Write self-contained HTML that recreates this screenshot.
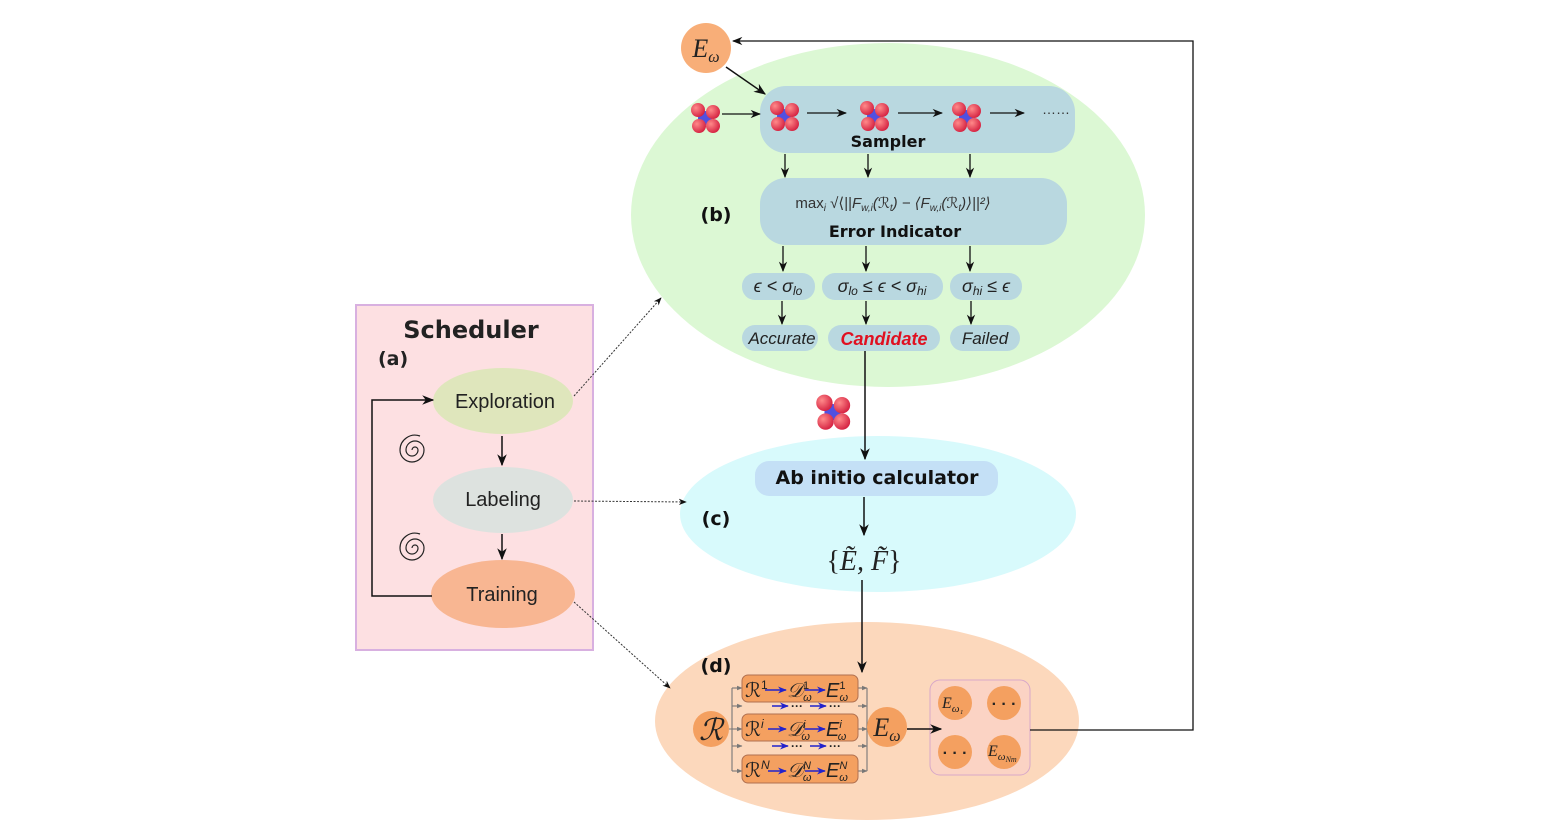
<!DOCTYPE html>
<html><head><meta charset="utf-8"><style>
html,body{margin:0;padding:0;background:#fff;}
svg{display:block;}
text{font-family:"Liberation Sans","DejaVu Sans",sans-serif;}
.m{font-family:"Liberation Serif","DejaVu Serif",serif;font-style:italic;}
.b{font-family:"DejaVu Sans","Liberation Sans",sans-serif;font-weight:bold;}
</style></head><body>
<svg width="1550" height="822" viewBox="0 0 1550 822" xmlns="http://www.w3.org/2000/svg">
<defs>
<marker id="ah" viewBox="0 0 10 10" refX="9" refY="5" markerWidth="8" markerHeight="8" orient="auto-start-reverse"><path d="M0,1 L10,5 L0,9 L3,5z" fill="#111"/></marker>
<marker id="ab" viewBox="0 0 10 10" refX="9" refY="5" markerWidth="6" markerHeight="6" orient="auto"><path d="M0,1 L10,5 L0,9 L3,5z" fill="#2222cc"/></marker>
<marker id="ag" viewBox="0 0 10 10" refX="9" refY="5" markerWidth="5" markerHeight="5" orient="auto"><path d="M0,1 L10,5 L0,9z" fill="#777"/></marker>
<radialGradient id="rd" cx="0.35" cy="0.35" r="0.7"><stop offset="0" stop-color="#ff8a8a"/><stop offset="1" stop-color="#d42040"/></radialGradient>
<g id="mol"><circle cx="0" cy="0" r="7" fill="#5050e0"/><circle cx="-7" cy="-8" r="7" fill="url(#rd)"/><circle cx="8" cy="-6" r="7" fill="url(#rd)"/><circle cx="-6" cy="8" r="7" fill="url(#rd)"/><circle cx="8" cy="8" r="7" fill="url(#rd)"/></g>
</defs>
<ellipse cx="888" cy="215" rx="257" ry="172" fill="#dcf8d4"/>
<ellipse cx="878" cy="514" rx="198" ry="78" fill="#d8fafc"/>
<ellipse cx="867" cy="721" rx="212" ry="99" fill="#fcd8bc"/>
<rect x="356" y="305" width="237" height="345" fill="#fde0e2" stroke="#d8b0e0" stroke-width="2"/>
<text x="471" y="338" class="b" font-size="24" text-anchor="middle" fill="#222">Scheduler</text>
<text x="378" y="365" class="b" font-size="19" fill="#222">(a)</text>
<ellipse cx="503" cy="401" rx="70" ry="33" fill="#dfe6bc"/>
<text x="505" y="408" font-size="20" text-anchor="middle" fill="#222">Exploration</text>
<ellipse cx="503" cy="500" rx="70" ry="33" fill="#dde2df"/>
<text x="503" y="506" font-size="20" text-anchor="middle" fill="#222">Labeling</text>
<ellipse cx="503" cy="594" rx="72" ry="34" fill="#f8b692"/>
<text x="502" y="601" font-size="20" text-anchor="middle" fill="#222">Training</text>
<line x1="502" y1="436" x2="502" y2="465" stroke="#111" stroke-width="1.5" marker-end="url(#ah)"/>
<line x1="502" y1="534" x2="502" y2="559" stroke="#111" stroke-width="1.5" marker-end="url(#ah)"/>
<path d="M432,596 L372,596 L372,400 L433,400" fill="none" stroke="#111" stroke-width="1.5" marker-end="url(#ah)"/>
<g fill="none" stroke="#222" stroke-width="1.2">
<path d="M412,450 m0,0 a3,3 0 0 1 6,0 a6,6 0 0 1 -12,0 a9,9 0 0 1 18,0 a12,12 0 0 1 -24,0 a15,15 0 0 1 20,-14"/>
<path d="M412,548 m0,0 a3,3 0 0 1 6,0 a6,6 0 0 1 -12,0 a9,9 0 0 1 18,0 a12,12 0 0 1 -24,0 a15,15 0 0 1 20,-14"/>
</g>
<line x1="574" y1="396" x2="661" y2="298" stroke="#333" stroke-width="1" stroke-dasharray="2,1.5" marker-end="url(#ah)"/>
<line x1="574" y1="501" x2="686" y2="502" stroke="#333" stroke-width="1" stroke-dasharray="2,1.5" marker-end="url(#ah)"/>
<line x1="574" y1="602" x2="670" y2="688" stroke="#333" stroke-width="1" stroke-dasharray="2,1.5" marker-end="url(#ah)"/>
<circle cx="706" cy="48" r="25" fill="#f8ae78"/>
<text x="706" y="57" class="m" font-size="26" text-anchor="middle" fill="#222">E<tspan font-size="16" dy="5">ω</tspan></text>
<line x1="726" y1="67" x2="765" y2="94" stroke="#111" stroke-width="1.5" marker-end="url(#ah)"/>
<rect x="760" y="86" width="315" height="67" rx="26" fill="#b9d8e0"/>
<use href="#mol" x="705" y="118"/>
<line x1="722" y1="114" x2="760" y2="114" stroke="#111" stroke-width="1.3" marker-end="url(#ah)"/>
<use href="#mol" x="784" y="116"/>
<line x1="807" y1="113" x2="846" y2="113" stroke="#111" stroke-width="1.3" marker-end="url(#ah)"/>
<use href="#mol" x="874" y="116"/>
<line x1="898" y1="113" x2="942" y2="113" stroke="#111" stroke-width="1.3" marker-end="url(#ah)"/>
<use href="#mol" x="966" y="117"/>
<line x1="990" y1="113" x2="1024" y2="113" stroke="#111" stroke-width="1.3" marker-end="url(#ah)"/>
<text x="1056" y="114" font-size="14" text-anchor="middle" fill="#333">……</text>
<text x="888" y="147" class="b" font-size="16" text-anchor="middle" fill="#111">Sampler</text>
<g stroke="#111" stroke-width="1.3">
<line x1="785" y1="154" x2="785" y2="177" marker-end="url(#ah)"/>
<line x1="868" y1="154" x2="868" y2="177" marker-end="url(#ah)"/>
<line x1="970" y1="154" x2="970" y2="177" marker-end="url(#ah)"/>
</g>
<rect x="760" y="178" width="307" height="67" rx="26" fill="#b9d8e0"/>
<text x="893" y="208" font-family="Liberation Serif,serif" font-size="15" text-anchor="middle" fill="#333">max<tspan font-size="10" dy="3" font-style="italic">i</tspan><tspan dy="-3"> √⟨||</tspan><tspan font-style="italic">F<tspan font-size="10" dy="3">w,i</tspan><tspan dy="-3">(ℛ</tspan><tspan font-size="10" dy="3">t</tspan><tspan dy="-3">) − ⟨F</tspan><tspan font-size="10" dy="3">w,i</tspan><tspan dy="-3">(ℛ</tspan><tspan font-size="10" dy="3">t</tspan><tspan dy="-3">)⟩||²⟩</tspan></tspan></text>
<text x="895" y="237" class="b" font-size="16" text-anchor="middle" fill="#111">Error Indicator</text>
<text x="716" y="221" class="b" font-size="19" text-anchor="middle" fill="#111">(b)</text>
<g stroke="#111" stroke-width="1.3">
<line x1="783" y1="246" x2="783" y2="271" marker-end="url(#ah)"/>
<line x1="866" y1="246" x2="866" y2="271" marker-end="url(#ah)"/>
<line x1="970" y1="246" x2="970" y2="271" marker-end="url(#ah)"/>
<line x1="782" y1="301" x2="782" y2="324" marker-end="url(#ah)"/>
<line x1="866" y1="301" x2="866" y2="324" marker-end="url(#ah)"/>
<line x1="971" y1="301" x2="971" y2="324" marker-end="url(#ah)"/>
</g>
<g fill="#b9d8e0">
<rect x="742" y="273" width="73" height="27" rx="13"/>
<rect x="822" y="273" width="121" height="27" rx="13"/>
<rect x="950" y="273" width="72" height="27" rx="13"/>
<rect x="742" y="325" width="76" height="26" rx="13"/>
<rect x="828" y="325" width="112" height="26" rx="13"/>
<rect x="950" y="325" width="70" height="26" rx="13"/>
</g>
<g class="m" font-size="18" fill="#222" text-anchor="middle">
<text x="778" y="292">ϵ &lt; σ<tspan font-size="12" dy="3">lo</tspan></text>
<text x="882" y="292">σ<tspan font-size="12" dy="3">lo</tspan><tspan dy="-3"> ≤ ϵ &lt; σ</tspan><tspan font-size="12" dy="3">hi</tspan></text>
<text x="986" y="292">σ<tspan font-size="12" dy="3">hi</tspan><tspan dy="-3"> ≤ ϵ</tspan></text>
</g>
<text x="782" y="344" font-size="17" font-style="italic" text-anchor="middle" fill="#222">Accurate</text>
<text x="884" y="345" font-size="18" font-style="italic" font-weight="bold" text-anchor="middle" fill="#e01020">Candidate</text>
<text x="985" y="344" font-size="17" font-style="italic" text-anchor="middle" fill="#222">Failed</text>
<line x1="865" y1="351" x2="865" y2="459" stroke="#111" stroke-width="1.5" marker-end="url(#ah)"/>
<use href="#mol" x="833" y="413" transform="translate(-142 -71) scale(1.17)"/>
<rect x="755" y="461" width="243" height="35" rx="14" fill="#c4e0f6"/>
<text x="877" y="484" class="b" font-size="19" text-anchor="middle" fill="#111">Ab initio calculator</text>
<text x="716" y="525" class="b" font-size="19" text-anchor="middle" fill="#111">(c)</text>
<line x1="864" y1="497" x2="864" y2="535" stroke="#111" stroke-width="1.5" marker-end="url(#ah)"/>
<text x="864" y="570" class="m" font-size="28" text-anchor="middle" fill="#222"><tspan font-style="normal">{</tspan>Ẽ, F̃<tspan font-style="normal">}</tspan></text>
<line x1="862" y1="580" x2="862" y2="672" stroke="#111" stroke-width="1.5" marker-end="url(#ah)"/>
<text x="716" y="672" class="b" font-size="19" text-anchor="middle" fill="#111">(d)</text>
<circle cx="711" cy="729" r="18" fill="#f4a060"/>
<text x="711" y="740" class="m" font-size="30" text-anchor="middle" fill="#222">ℛ</text>
<g stroke="#777" stroke-width="1.1" fill="none">
<path d="M729,729 H732 M732,688 V771"/>
<line x1="732" y1="688" x2="742" y2="688" marker-end="url(#ag)"/>
<line x1="732" y1="706" x2="742" y2="706" marker-end="url(#ag)"/>
<line x1="732" y1="729" x2="742" y2="729" marker-end="url(#ag)"/>
<line x1="732" y1="746" x2="742" y2="746" marker-end="url(#ag)"/>
<line x1="732" y1="771" x2="742" y2="771" marker-end="url(#ag)"/>
<line x1="858" y1="688" x2="867" y2="688" marker-end="url(#ag)"/>
<line x1="858" y1="706" x2="867" y2="706" marker-end="url(#ag)"/>
<line x1="858" y1="729" x2="867" y2="729" marker-end="url(#ag)"/>
<line x1="858" y1="746" x2="867" y2="746" marker-end="url(#ag)"/>
<line x1="858" y1="771" x2="867" y2="771" marker-end="url(#ag)"/>
<path d="M867,688 V771"/>
</g>
<g fill="#f4a060" stroke="#b07050" stroke-width="1">
<rect x="742" y="675" width="116" height="27" rx="6"/>
<rect x="742" y="714" width="116" height="27" rx="6"/>
<rect x="742" y="755" width="116" height="28" rx="6"/>
</g>
<g class="m" font-size="20" fill="#222">
<text x="745" y="697">ℛ<tspan font-size="12" font-style="normal" dy="-8">1</tspan></text>
<text x="787" y="697">𝒟<tspan font-size="11" font-style="normal" dy="-8">1</tspan><tspan font-size="11" dx="-6" dy="12">ω</tspan></text>
<text x="826" y="697">E<tspan font-size="11" font-style="normal" dy="-8">1</tspan><tspan font-size="11" dx="-6" dy="12">ω</tspan></text>
<text x="745" y="736">ℛ<tspan font-size="12" dy="-8">i</tspan></text>
<text x="787" y="736">𝒟<tspan font-size="11" dy="-8">i</tspan><tspan font-size="11" dx="-4" dy="12">ω</tspan></text>
<text x="826" y="736">E<tspan font-size="11" dy="-8">i</tspan><tspan font-size="11" dx="-4" dy="12">ω</tspan></text>
<text x="745" y="777">ℛ<tspan font-size="12" dy="-8">N</tspan></text>
<text x="787" y="777">𝒟<tspan font-size="11" dy="-8">N</tspan><tspan font-size="11" dx="-8" dy="12">ω</tspan></text>
<text x="826" y="777">E<tspan font-size="11" dy="-8">N</tspan><tspan font-size="11" dx="-8" dy="12">ω</tspan></text>
</g>
<g stroke="#2222cc" stroke-width="1.5">
<line x1="765" y1="690" x2="786" y2="690" marker-end="url(#ab)"/>
<line x1="805" y1="690" x2="825" y2="690" marker-end="url(#ab)"/>
<line x1="768" y1="729" x2="786" y2="729" marker-end="url(#ab)"/>
<line x1="805" y1="729" x2="825" y2="729" marker-end="url(#ab)"/>
<line x1="768" y1="771" x2="786" y2="771" marker-end="url(#ab)"/>
<line x1="805" y1="771" x2="825" y2="771" marker-end="url(#ab)"/>
<line x1="772" y1="706" x2="788" y2="706" marker-end="url(#ab)"/>
<line x1="810" y1="706" x2="826" y2="706" marker-end="url(#ab)"/>
<line x1="772" y1="746" x2="788" y2="746" marker-end="url(#ab)"/>
<line x1="810" y1="746" x2="826" y2="746" marker-end="url(#ab)"/>
</g>
<g font-size="12" font-weight="bold" fill="#222"><text x="791" y="710">···</text><text x="829" y="710">···</text><text x="791" y="750">···</text><text x="829" y="750">···</text></g>
<circle cx="887" cy="727" r="20" fill="#f4a060"/>
<text x="887" y="736" class="m" font-size="26" text-anchor="middle" fill="#222">E<tspan font-size="16" dy="5">ω</tspan></text>
<rect x="930" y="680" width="100" height="95" rx="10" fill="#fbd3c4" stroke="#d8a8c8" stroke-width="1"/>
<line x1="907" y1="729" x2="941" y2="729" stroke="#111" stroke-width="1.5" marker-end="url(#ah)"/>
<g fill="#f4a060"><circle cx="955" cy="703" r="17"/><circle cx="1004" cy="703" r="17"/><circle cx="955" cy="752" r="17"/><circle cx="1004" cy="752" r="17"/></g>
<text x="942" y="708" class="m" font-size="16" fill="#222">E<tspan font-size="11" dy="4">ω₁</tspan></text>
<text x="1004" y="709" font-size="16" font-weight="bold" text-anchor="middle" fill="#222">· · ·</text>
<text x="955" y="758" font-size="16" font-weight="bold" text-anchor="middle" fill="#222">· · ·</text>
<text x="988" y="756" class="m" font-size="16" fill="#222">E<tspan font-size="11" dy="4">ω</tspan><tspan font-size="8" dy="2">Nm</tspan></text>
<path d="M1030,730 H1193 V41 H733" fill="none" stroke="#111" stroke-width="1.3" marker-end="url(#ah)"/>
</svg>
</body></html>
